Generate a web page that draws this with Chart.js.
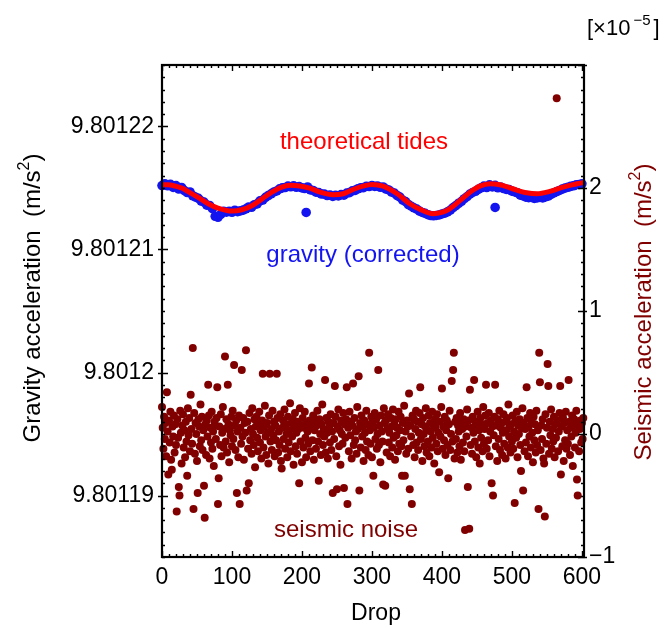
<!DOCTYPE html>
<html>
<head>
<meta charset="utf-8">
<script src="https://cdn.jsdelivr.net/npm/chart.js@4.4.1/dist/chart.umd.min.js"></script>
<style>
  html, body { margin: 0; padding: 0; background: #fff; }
  #chart { display: block; }
</style>
</head>
<body>
<canvas id="chart" width="667" height="628"></canvas>
<script>
// Tick values and labels
const dropTicks = [0, 100, 200, 300, 400, 500, 600];
const gravityTicks = [9.80119, 9.8012, 9.80121, 9.80122];
const gravityTickLabels = ['9.80119', '9.8012', '9.80121', '9.80122'];
const seismicTicks = [-1, 0, 1, 2];
const seismicTickLabels = ['\u22121', '0', '1', '2'];

// Theoretical tides (m/s^2)
const tideDrops = [0, 9, 19, 29, 37, 51, 66, 80, 100, 114, 129, 143, 157, 171, 183, 197, 211, 226, 244, 259,
  273, 287, 300, 316, 336, 354, 369, 387, 401, 411, 426, 440, 454, 469, 483, 501, 521, 536, 554, 573, 593, 603];
const tideValues = [9.80121526, 9.80121526, 9.80121515, 9.80121498, 9.80121472, 9.80121426, 9.80121372, 9.80121336,
  9.80121312, 9.80121323, 9.80121358, 9.80121412, 9.80121466, 9.80121507, 9.80121522, 9.80121516, 9.80121499,
  9.80121466, 9.80121445, 9.80121453, 9.80121488, 9.80121515, 9.80121529, 9.80121515, 9.80121453, 9.80121372,
  9.80121326, 9.80121291, 9.80121304, 9.80121331, 9.80121399, 9.80121466, 9.80121515, 9.80121535, 9.80121526,
  9.80121494, 9.80121461, 9.80121453, 9.80121472, 9.80121507, 9.80121535, 9.80121545];

// Corrected gravity, one value every 4 drops (m/s^2)
const gravityStep = 4;
const gravityValues = [
  9.80121520, 9.80121535, 9.80121518, 9.80121530, 9.80121505, 9.80121519, 9.80121492, 9.80121504, 9.80121479, 9.80121463,
  9.80121468, 9.80121437, 9.80121425, 9.80121416, 9.80121394, 9.80121386, 9.80121361, 9.80121358, 9.80121332, 9.80121270,
  9.80121262, 9.80121285, 9.80121311, 9.80121304, 9.80121310, 9.80121303, 9.80121319, 9.80121308, 9.80121314, 9.80121320,
  9.80121331, 9.80121346, 9.80121343, 9.80121364, 9.80121371, 9.80121396, 9.80121402, 9.80121424, 9.80121439, 9.80121453,
  9.80121468, 9.80121476, 9.80121493, 9.80121501, 9.80121504, 9.80121516, 9.80121510, 9.80121517, 9.80121506, 9.80121512,
  9.80121501, 9.80121496, 9.80121508, 9.80121485, 9.80121480, 9.80121466, 9.80121462, 9.80121451, 9.80121450, 9.80121439,
  9.80121443, 9.80121432, 9.80121440, 9.80121436, 9.80121446, 9.80121442, 9.80121458, 9.80121462, 9.80121477, 9.80121481,
  9.80121494, 9.80121502, 9.80121503, 9.80121514, 9.80121512, 9.80121520, 9.80121513, 9.80121515, 9.80121506, 9.80121508,
  9.80121492, 9.80121484, 9.80121467, 9.80121458, 9.80121439, 9.80121426, 9.80121401, 9.80121390, 9.80121366, 9.80121352,
  9.80121339, 9.80121328, 9.80121312, 9.80121301, 9.80121294, 9.80121283, 9.80121276, 9.80121274, 9.80121277, 9.80121281,
  9.80121289, 9.80121295, 9.80121306, 9.80121320, 9.80121341, 9.80121357, 9.80121376, 9.80121392, 9.80121413, 9.80121430,
  9.80121451, 9.80121464, 9.80121473, 9.80121489, 9.80121501, 9.80121516, 9.80121504, 9.80121526, 9.80121509, 9.80121521,
  9.80121502, 9.80121508, 9.80121496, 9.80121489, 9.80121487, 9.80121475, 9.80121468, 9.80121460, 9.80121442, 9.80121436,
  9.80121425, 9.80121421, 9.80121423, 9.80121416, 9.80121420, 9.80121424, 9.80121419, 9.80121428, 9.80121435, 9.80121448,
  9.80121460, 9.80121471, 9.80121480, 9.80121491, 9.80121500, 9.80121506, 9.80121513, 9.80121518, 9.80121527, 9.80121528,
  9.80121534];
const gravityOutlierDrops = [206, 476];
const gravityOutlierValues = [9.80121301, 9.80121342];

// Seismic noise, one value per drop (x10^-5 m/s^2)
const seismicValues = [
  0.22, 0.05, -0.12, 0.14, -0.04, 0.09, -0.18, 0.34, 0.02, -0.33, 0.11, -0.07, 0.18, -0.21, -0.29, 0.06, -0.02, 0.15, -0.15, 0.08,
  -0.09, -0.63, 0.12, -0.03, -0.43, -0.50, 0.19, 0.01, -0.24, 0.07, 0.16, -0.11, 0.03, -0.19, 0.10, -0.06, -0.34, 0.21, -0.01, 0.13,
  -0.14, 0.32, 0.04, -0.08, 0.70, -0.61, 0.17, -0.16, 0.09, 0.00, -0.22, -0.48, 0.12, 0.06, -0.10, 0.24, -0.05, 0.14, -0.13, 0.03,
  -0.42, -0.68, 0.08, -0.17, 0.11, -0.02, 0.40, 0.15, -0.20, 0.05, -0.07, 0.18, -0.12, 0.02, -0.26, 0.10, 0.07, -0.04, 0.13, 0.38,
  -0.57, -0.36, 0.06, -0.09, 0.16, -0.18, 0.01, 0.22, -0.11, 0.04, 0.63, -0.06, 0.12, -0.15, 0.40, 0.08, -0.23, 0.03, -0.01, 0.14,
  -0.10, 0.19, -0.04, 0.56, 0.07, -0.13, 0.11, -0.48, 0.02, -0.19, 0.15, -0.57, 0.05, -0.08, 0.52, -0.02, 0.13, -0.21, 0.09, 0.01,
  0.68, -0.46, 0.10, -0.12, -0.40, 0.17, -0.05, 0.04, -0.16, 0.21, 0.00, -0.09, 0.12, -0.27, 0.06, 0.14, -0.03, -0.14, 0.08, 0.18,
  -0.07, 0.03, -0.20, 0.11, 0.49, -0.11, 0.06, 0.23, -0.02, -0.17, 0.09, 0.01, -0.24, 0.15, 0.49, -0.06, 0.04, -0.13, 0.19, -0.01,
  0.10, -0.18, 0.07, -0.05, 0.49, 0.13, -0.15, 0.02, -0.09, 0.16, -0.22, -0.28, 0.05, 0.11, -0.04, 0.20, -0.12, 0.08, 0.00, -0.19,
  0.14, -0.07, 0.03, 0.25, -0.14, 0.09, -0.02, 0.12, -0.25, 0.06, 0.17, -0.10, 0.01, -0.16, 0.10, 0.04, -0.40, 0.21, -0.06, 0.07,
  -0.23, 0.13, -0.11, 0.05, 0.18, -0.03, -0.19, 0.09, 0.02, -0.08, 0.41, 0.11, -0.14, 0.06, 0.54, -0.05, 0.15, -0.21, 0.03, 0.10,
  -0.12, 0.07, 0.19, -0.06, -0.38, 0.12, 0.00, -0.17, 0.08, 0.24, -0.09, 0.04, -0.02, 0.44, -0.15, 0.13, 0.01, -0.20, 0.10, 0.05,
  -0.07, 0.16, -0.13, 0.02, -0.48, 0.09, -0.04, 0.39, 0.14, -0.18, -0.45, 0.06, 0.20, -0.10, 0.03, -0.25, 0.11, 0.00, -0.08, 0.17,
  -0.44, 0.08, -0.03, 0.12, 0.38, -0.57, 0.05, -0.14, 0.18, -0.01, 0.10, -0.20, 0.07, 0.41, -0.09, 0.13, -0.05, 0.02, -0.16, 0.22,
  0.04, 0.47, -0.46, 0.09, -0.11, 0.15, -0.02, 0.06, -0.22, 0.11, 0.01, -0.13, 0.19, -0.06, 0.08, -0.17, 0.66, 0.03, -0.08, 0.14,
  -0.19, 0.10, -0.34, 0.05, 0.17, -0.04, 0.12, -0.12, 0.00, 0.52, -0.09, 0.07, -0.23, 0.15, 0.02, -0.06, -0.41, 0.21, 0.09, -0.42,
  0.11, -0.15, 0.04, 0.16, -0.07, 0.01, -0.18, 0.13, 0.06, -0.11, 0.20, -0.03, 0.08, -0.21, 0.12, -0.01, 0.05, -0.14, 0.18, -0.08,
  0.03, 0.14, -0.10, -0.34, 0.09, -0.05, 0.23, -0.34, 0.02, -0.16, 0.11, 0.06, -0.12, 0.33, -0.45, 0.07, -0.02, -0.57, 0.15, -0.09,
  0.12, -0.19, 0.04, 0.19, -0.07, 0.10, -0.13, 0.01, 0.17, 0.38, -0.04, 0.08, -0.22, 0.13, 0.00, -0.10, 0.06, 0.21, -0.15, 0.03,
  -0.06, 0.15, -0.18, 0.09, 0.02, -0.11, 0.18, -0.03, 0.07, -0.24, 0.12, 0.05, -0.08, 0.16, -0.14, 0.01, -0.31, 0.10, -0.02, 0.22,
  0.37, -0.12, 0.06, -0.05, 0.14, -0.17, 0.03, 0.11, -0.09, -0.36, 0.08, 0.19, -0.13, 0.00, 0.43, -0.06, 0.52, 0.66, -0.20, 0.10,
  -0.04, 0.13, -0.15, 0.07, 0.02, -0.10, 0.17, -0.21, 0.09, 0.04, -0.07, 0.12, -0.14, -0.78, 0.06, -0.02, 0.20, -0.43, 0.11, -0.77,
  0.36, -0.09, 0.05, -0.16, 0.14, 0.01, 0.44, -0.06, 0.10, -0.19, 0.07, 0.18, -0.11, 0.03, -0.24, 0.13, -0.03, 0.08, -0.14, 0.22,
  -0.08, 0.04, 0.15, 0.40, -0.12, 0.09, -0.05, 0.17, -0.18, 0.02, 0.11, -0.40, 0.06, -0.50, -0.01, 0.14, 0.40, -0.10, 0.07, -0.22,
  0.12, -0.04, 0.19, -0.13, 0.05, 0.09, -0.17, 0.01, 0.16, -0.08, 0.10, -0.20, 0.03, 0.13, -0.11, 0.24, -0.02, 0.06, -0.15, 0.08,
  -0.06, 0.15, -0.12, 0.02, -0.56, 0.11, -0.03, 0.18, -0.19, 0.07, 0.00, 0.12, -0.09, -0.30, 0.05, 0.21, -0.46, 0.09, -0.14, 0.04,
  -0.07, 0.38, 0.13, -0.18, 0.06, -0.02, 0.17, -0.11, 0.10, 0.01, -0.23, 0.14, -0.05, 0.08, -0.15, 0.19, -0.09, 0.03, -0.61, 0.66,
  0.42, -0.13, 0.07, -0.04, 0.12, -0.20, -0.24, -0.67, 0.16, -0.08, 0.05, 0.57, 0.39, -0.16, 0.10, -0.01, 0.20, -0.12, 0.04, -0.06,
  0.14, -0.19, 0.08, -0.03, 2.73, 0.11, -0.14, 0.02, 0.17, 0.39, -0.33, 0.06, -0.10, 0.13, -0.22, 0.09, -0.05, 0.18, -0.12, 0.03,
  -0.08, 0.44, 0.10, -0.17, 0.05, -0.02, 0.15, -0.26, 0.07, 0.12, -0.11, 0.01, 0.19, -0.37, -0.50, 0.08, -0.14, 0.04, 0.11, -0.07,
  0.09, -0.04, 0.13];

const FONT = '"Liberation Sans", Arial, sans-serif';
const DARK_RED = '#800000';

// Build point lists for Chart.js
const tidePoints = tideDrops.map((d, i) => ({ x: d, y: tideValues[i] }));
const gravityPoints = gravityValues.map((v, i) => ({ x: i * gravityStep, y: v }));
gravityOutlierDrops.forEach((d, i) => gravityPoints.push({ x: d, y: gravityOutlierValues[i] }));
const seismicPoints = seismicValues.map((v, i) => ({ x: i, y: v }));

// Draw text with superscript parts: parts = [[text, isSup, gapBefore], ...]
function drawRich(ctx, parts, x, y, size, center) {
  const supSize = Math.round(size * 0.68);
  const widths = parts.map(([t, sup, gap]) => {
    ctx.font = (sup ? supSize : size) + 'px ' + FONT;
    return ctx.measureText(t).width + (gap || 0);
  });
  const total = widths.reduce((s, w) => s + w, 0);
  let cx = center ? x - total / 2 : x;
  ctx.textAlign = 'left';
  ctx.textBaseline = 'alphabetic';
  parts.forEach(([t, sup, gap], i) => {
    ctx.font = (sup ? supSize : size) + 'px ' + FONT;
    ctx.fillText(t, cx + (gap || 0), sup ? y - size * 0.45 : y);
    cx += widths[i];
  });
}

const framePlugin = {
  id: 'frame',
  beforeDraw(chart) {
    const ctx = chart.ctx;
    ctx.save();
    ctx.fillStyle = '#fff';
    ctx.fillRect(0, 0, chart.width, chart.height);
    ctx.restore();
  },
  afterDraw(chart) {
    const { ctx, chartArea: a, scales } = chart;
    ctx.save();

    // Plot box
    ctx.strokeStyle = '#000';
    ctx.lineWidth = 2.2;
    ctx.strokeRect(a.left, a.top, a.right - a.left, a.bottom - a.top);

    // Tick marks, pointing inwards
    ctx.lineWidth = 1.4;
    ctx.beginPath();
    for (let k = 0; k <= 60; k++) {
      const px = Math.round(scales.x.getPixelForValue(k * 10)) + 0.5;
      const len = k % 10 === 0 ? 6 : 3;
      ctx.moveTo(px, a.bottom); ctx.lineTo(px, a.bottom - len);
      ctx.moveTo(px, a.top); ctx.lineTo(px, a.top + len);
    }
    for (let k = 0; k <= 40; k++) {
      const py = Math.round(scales.yG.getPixelForValue(scales.yG.min + k * 1e-6)) + 0.5;
      if ((k - 5) % 10 === 0) { ctx.moveTo(a.left - 4, py); ctx.lineTo(a.left + 6, py); }
      else { ctx.moveTo(a.left, py); ctx.lineTo(a.left + 3, py); }
    }
    for (let k = 0; k <= 40; k++) {
      const py = Math.round(scales.yS.getPixelForValue(-1 + k * 0.1)) + 0.5;
      if (k % 10 === 0) { ctx.moveTo(a.right + 3, py); ctx.lineTo(a.right - 6, py); }
      else { ctx.moveTo(a.right, py); ctx.lineTo(a.right - 3, py); }
    }
    ctx.stroke();

    // Axis titles
    ctx.fillStyle = '#000';
    ctx.save();
    ctx.translate(40, 298);
    ctx.rotate(-Math.PI / 2);
    drawRich(ctx, [['Gravity acceleration  (m/s', false], ['2', true], [')', false]], 0, 0, 24, true);
    ctx.restore();

    ctx.fillStyle = DARK_RED;
    ctx.save();
    ctx.translate(651, 312);
    ctx.rotate(-Math.PI / 2);
    drawRich(ctx, [['Seismic acceleration  (m/s', false], ['2', true], [')', false]], 0, 0, 24, true);
    ctx.restore();

    ctx.fillStyle = '#000';
    drawRich(ctx, [['[\u00d710', false], ['\u22125', true, 3], [']', false, 3]], 587, 35, 22, false);
    drawRich(ctx, [['Drop', false]], 376, 620, 23, true);

    // Series annotations
    ctx.fillStyle = '#ff0000';
    drawRich(ctx, [['theoretical tides', false]], 364, 149, 24, true);
    ctx.fillStyle = '#1414f0';
    drawRich(ctx, [['gravity (corrected)', false]], 363, 262, 24, true);
    ctx.fillStyle = DARK_RED;
    drawRich(ctx, [['seismic noise', false]], 346, 537, 24, true);

    ctx.restore();
  }
};

const tickFont = { family: FONT, size: 23 };
const noGrid = { display: false, drawTicks: false, tickLength: 0 };

new Chart(document.getElementById('chart'), {
  type: 'scatter',
  data: {
    datasets: [
      {
        label: 'theoretical tides',
        data: tidePoints,
        yAxisID: 'yG',
        showLine: true,
        borderColor: '#ff0000',
        borderWidth: 5,
        pointRadius: 0,
        cubicInterpolationMode: 'monotone',
        clip: false
      },
      {
        label: 'gravity (corrected)',
        data: gravityPoints,
        yAxisID: 'yG',
        pointBackgroundColor: '#1414f0',
        pointBorderWidth: 0,
        pointRadius: 4.8,
        clip: false
      },
      {
        label: 'seismic noise',
        data: seismicPoints,
        yAxisID: 'yS',
        pointBackgroundColor: DARK_RED,
        pointBorderWidth: 0,
        pointRadius: 4,
        clip: false
      }
    ]
  },
  options: {
    responsive: false,
    animation: false,
    devicePixelRatio: 1,
    layout: { padding: { top: 65, left: 0, right: 0, bottom: 0 } },
    plugins: { legend: { display: false }, tooltip: { enabled: false } },
    scales: {
      x: {
        type: 'linear',
        position: 'bottom',
        min: 0,
        max: 603,
        grid: noGrid,
        border: { display: false },
        ticks: { color: '#000', font: tickFont, padding: 7, maxRotation: 0, autoSkip: false },
        afterBuildTicks: s => { s.ticks = dropTicks.map(v => ({ value: v })); },
        afterFit: s => { s.height = 71; }
      },
      yG: {
        type: 'linear',
        position: 'left',
        min: 9.801185,
        max: 9.801225,
        grid: noGrid,
        border: { display: false },
        ticks: { color: '#000', font: tickFont, padding: 8, callback: (v, i) => gravityTickLabels[i] },
        afterBuildTicks: s => { s.ticks = gravityTicks.map(v => ({ value: v })); },
        afterFit: s => { s.width = 162; }
      },
      yS: {
        type: 'linear',
        position: 'right',
        min: -1,
        max: 3,
        grid: noGrid,
        border: { display: false },
        ticks: { color: '#000', font: tickFont, padding: 5, callback: (v, i) => seismicTickLabels[i] },
        afterBuildTicks: s => { s.ticks = seismicTicks.map(v => ({ value: v })); },
        afterFit: s => { s.width = 83; }
      }
    }
  },
  plugins: [framePlugin]
});
</script>
</body>
</html>
